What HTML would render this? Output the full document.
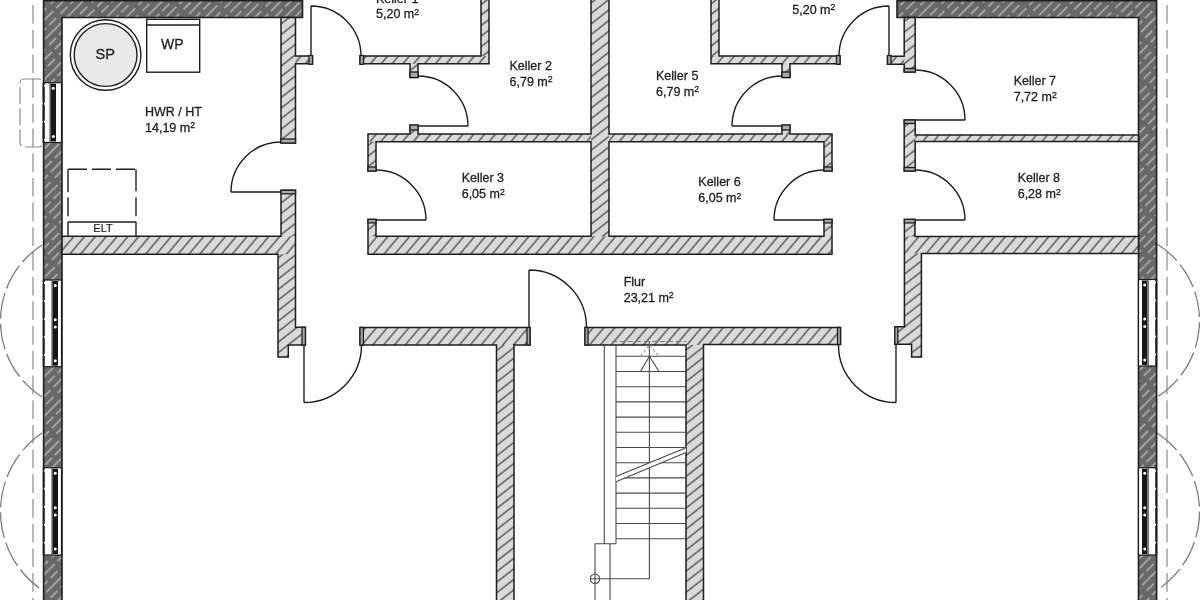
<!DOCTYPE html>
<html><head><meta charset="utf-8"><title>Grundriss Keller</title>
<style>html,body{margin:0;padding:0;background:#fff;width:1200px;height:600px;overflow:hidden}svg{display:block;will-change:transform}</style>
</head><body>
<svg width="1200" height="600" viewBox="0 0 1200 600">
<defs>
 <pattern id="hl" patternUnits="userSpaceOnUse" width="8.3" height="20" patternTransform="rotate(40)">
  <rect width="8.3" height="20" fill="#dadada"/>
  <line x1="1" y1="0" x2="1" y2="20" stroke="#353535" stroke-width="1.15"/>
 </pattern>
 <pattern id="hv" patternUnits="userSpaceOnUse" width="8.3" height="20" patternTransform="rotate(52)">
  <rect width="8.3" height="20" fill="#dadada"/>
  <line x1="1" y1="0" x2="1" y2="20" stroke="#353535" stroke-width="1.15"/>
 </pattern>
 <pattern id="hd" patternUnits="userSpaceOnUse" width="14" height="30" patternTransform="rotate(45)">
  <rect width="14" height="30" fill="#686868"/>
  <line x1="3.5" y1="0" x2="3.5" y2="26" stroke="#b6b6b6" stroke-width="1.5"/>
  <line x1="10.5" y1="3" x2="10.5" y2="13" stroke="#b6b6b6" stroke-width="1.5"/>
  <line x1="10.5" y1="17" x2="10.5" y2="27" stroke="#b6b6b6" stroke-width="1.5"/>
 </pattern>
</defs>

<line x1="33" y1="0" x2="33" y2="600" stroke="#9a9a9a" stroke-width="1.4" stroke-dasharray="18.7 6" stroke-dashoffset="-5"/>
<line x1="1167" y1="0" x2="1167" y2="600" stroke="#9a9a9a" stroke-width="1.4" stroke-dasharray="18.7 6" stroke-dashoffset="-5"/>
<path d="M42,245 A90.3,90.3 0 0 0 42,397" fill="none" stroke="#7c7c7c" stroke-width="1.35" stroke-dasharray="26 5"/>
<path d="M42,433 A95.0,95.0 0 0 0 42,590" fill="none" stroke="#7c7c7c" stroke-width="1.35" stroke-dasharray="26 5"/>
<path d="M1157,244 A90.1,90.1 0 0 1 1157,397" fill="none" stroke="#7c7c7c" stroke-width="1.35" stroke-dasharray="26 5"/>
<path d="M1157,433 A93.7,93.7 0 0 1 1157,590" fill="none" stroke="#7c7c7c" stroke-width="1.35" stroke-dasharray="26 5"/>
<rect x="20" y="79" width="23" height="68" rx="4" fill="none" stroke="#8a8a8a" stroke-width="1.2" stroke-dasharray="17 4"/>
<path d="M43.6,0.7 L302.5,0.7 L302.5,17.5 L62,17.5 L62,602 L43.6,602 Z" fill="url(#hd)" stroke="#1e1e1e" stroke-width="1.6"/>
<path d="M897,0.7 L1156.6,0.7 L1156.6,602 L1138.5,602 L1138.5,17.5 L897,17.5 Z" fill="url(#hd)" stroke="#1e1e1e" stroke-width="1.6"/>
<clipPath id="ic"><path d="M281,17.5 L295.5,17.5 L295.5,56 L312.5,56 L312.5,63.8 L295.5,63.8 L295.5,143 L281,143 Z M62,236.2 L281,236.2 L281,190.3 L295.5,190.3 L295.5,327.3 L305.4,327.3 L305.4,345 L288.3,345 L288.3,357 L278,357 L278,254.2 L62,254.2 Z M481,-2 L489,-2 L489,63.8 L418,63.8 L418,77.5 L410,77.5 L410,63.8 L360,63.8 L360,56 L481,56 Z M711,-2 L719,-2 L719,56 L840,56 L840,63.8 L790,63.8 L790,77.5 L782,77.5 L782,63.8 L711,63.8 Z M591,-2 L609,-2 L609,134 L782,134 L782,125.3 L790,125.3 L790,134 L832,134 L832,171 L824,171 L824,141.8 L609,141.8 L609,236.2 L824,236.2 L824,219.4 L832,219.4 L832,254.2 L368,254.2 L368,219.4 L376,219.4 L376,236.2 L591,236.2 L591,141.8 L376,141.8 L376,171 L368,171 L368,134 L410,134 L410,125.3 L418,125.3 L418,134 L591,134 Z M904.2,17.5 L915.2,17.5 L915.2,72 L904.2,72 L904.2,64.2 L887.5,64.2 L887.5,56.2 L904.2,56.2 Z M904.2,120 L915.2,120 L915.2,135 L1138.5,135 L1138.5,141.5 L915.2,141.5 L915.2,171 L904.2,171 Z M904.4,219.4 L915,219.4 L915,236.5 L1138.5,236.5 L1138.5,253.5 L921.4,253.5 L921.4,357 L911.6,357 L911.6,344.2 L894.8,344.2 L894.8,326.8 L904.4,326.8 Z M360,327.5 L530,327.5 L530,345 L514,345 L514,602 L496.5,602 L496.5,345 L360,345 Z M585,327.5 L840.5,327.5 L840.5,344.5 L703.5,344.5 L703.5,602 L686,602 L686,345 L585,345 Z"/></clipPath>
<path d="M281,17.5 L295.5,17.5 L295.5,56 L312.5,56 L312.5,63.8 L295.5,63.8 L295.5,143 L281,143 Z M62,236.2 L281,236.2 L281,190.3 L295.5,190.3 L295.5,327.3 L305.4,327.3 L305.4,345 L288.3,345 L288.3,357 L278,357 L278,254.2 L62,254.2 Z M481,-2 L489,-2 L489,63.8 L418,63.8 L418,77.5 L410,77.5 L410,63.8 L360,63.8 L360,56 L481,56 Z M711,-2 L719,-2 L719,56 L840,56 L840,63.8 L790,63.8 L790,77.5 L782,77.5 L782,63.8 L711,63.8 Z M591,-2 L609,-2 L609,134 L782,134 L782,125.3 L790,125.3 L790,134 L832,134 L832,171 L824,171 L824,141.8 L609,141.8 L609,236.2 L824,236.2 L824,219.4 L832,219.4 L832,254.2 L368,254.2 L368,219.4 L376,219.4 L376,236.2 L591,236.2 L591,141.8 L376,141.8 L376,171 L368,171 L368,134 L410,134 L410,125.3 L418,125.3 L418,134 L591,134 Z M904.2,17.5 L915.2,17.5 L915.2,72 L904.2,72 L904.2,64.2 L887.5,64.2 L887.5,56.2 L904.2,56.2 Z M904.2,120 L915.2,120 L915.2,135 L1138.5,135 L1138.5,141.5 L915.2,141.5 L915.2,171 L904.2,171 Z M904.4,219.4 L915,219.4 L915,236.5 L1138.5,236.5 L1138.5,253.5 L921.4,253.5 L921.4,357 L911.6,357 L911.6,344.2 L894.8,344.2 L894.8,326.8 L904.4,326.8 Z M360,327.5 L530,327.5 L530,345 L514,345 L514,602 L496.5,602 L496.5,345 L360,345 Z M585,327.5 L840.5,327.5 L840.5,344.5 L703.5,344.5 L703.5,602 L686,602 L686,345 L585,345 Z" fill="url(#hl)" stroke="none"/>
<g clip-path="url(#ic)"><rect x="281" y="17.5" width="14.5" height="125.5" fill="url(#hv)"/><rect x="281" y="190.3" width="14.5" height="45.9" fill="url(#hv)"/><rect x="278" y="254.2" width="28.0" height="102.8" fill="url(#hv)"/><rect x="481" y="-2" width="8.0" height="58.0" fill="url(#hv)"/><rect x="711" y="-2" width="8.0" height="58.0" fill="url(#hv)"/><rect x="591" y="-2" width="18.0" height="238.2" fill="url(#hv)"/><rect x="368" y="141.8" width="8.0" height="29.2" fill="url(#hv)"/><rect x="368" y="219.4" width="8.0" height="16.8" fill="url(#hv)"/><rect x="824" y="141.8" width="8.0" height="29.2" fill="url(#hv)"/><rect x="824" y="219.4" width="8.0" height="16.8" fill="url(#hv)"/><rect x="410" y="63.8" width="8.0" height="13.7" fill="url(#hv)"/><rect x="410" y="125.3" width="8.0" height="8.7" fill="url(#hv)"/><rect x="782" y="63.8" width="8.0" height="13.7" fill="url(#hv)"/><rect x="782" y="125.3" width="8.0" height="8.7" fill="url(#hv)"/><rect x="904.2" y="17.5" width="11.0" height="54.5" fill="url(#hv)"/><rect x="904.2" y="120" width="11.0" height="51.0" fill="url(#hv)"/><rect x="904.4" y="219.4" width="10.6" height="17.1" fill="url(#hv)"/><rect x="894" y="253.5" width="27.4" height="103.5" fill="url(#hv)"/><rect x="496.5" y="345" width="17.5" height="257.0" fill="url(#hv)"/><rect x="686" y="345" width="17.5" height="257.0" fill="url(#hv)"/></g>
<path d="M281,17.5 L295.5,17.5 L295.5,56 L312.5,56 L312.5,63.8 L295.5,63.8 L295.5,143 L281,143 Z M62,236.2 L281,236.2 L281,190.3 L295.5,190.3 L295.5,327.3 L305.4,327.3 L305.4,345 L288.3,345 L288.3,357 L278,357 L278,254.2 L62,254.2 Z M481,-2 L489,-2 L489,63.8 L418,63.8 L418,77.5 L410,77.5 L410,63.8 L360,63.8 L360,56 L481,56 Z M711,-2 L719,-2 L719,56 L840,56 L840,63.8 L790,63.8 L790,77.5 L782,77.5 L782,63.8 L711,63.8 Z M591,-2 L609,-2 L609,134 L782,134 L782,125.3 L790,125.3 L790,134 L832,134 L832,171 L824,171 L824,141.8 L609,141.8 L609,236.2 L824,236.2 L824,219.4 L832,219.4 L832,254.2 L368,254.2 L368,219.4 L376,219.4 L376,236.2 L591,236.2 L591,141.8 L376,141.8 L376,171 L368,171 L368,134 L410,134 L410,125.3 L418,125.3 L418,134 L591,134 Z M904.2,17.5 L915.2,17.5 L915.2,72 L904.2,72 L904.2,64.2 L887.5,64.2 L887.5,56.2 L904.2,56.2 Z M904.2,120 L915.2,120 L915.2,135 L1138.5,135 L1138.5,141.5 L915.2,141.5 L915.2,171 L904.2,171 Z M904.4,219.4 L915,219.4 L915,236.5 L1138.5,236.5 L1138.5,253.5 L921.4,253.5 L921.4,357 L911.6,357 L911.6,344.2 L894.8,344.2 L894.8,326.8 L904.4,326.8 Z M360,327.5 L530,327.5 L530,345 L514,345 L514,602 L496.5,602 L496.5,345 L360,345 Z M585,327.5 L840.5,327.5 L840.5,344.5 L703.5,344.5 L703.5,602 L686,602 L686,345 L585,345 Z" fill="none" stroke="#1e1e1e" stroke-width="1.5" stroke-linejoin="miter"/>
<rect x="309" y="55.5" width="3.5" height="8.8" fill="#a9a9a9" stroke="#1e1e1e" stroke-width="1.3"/>
<rect x="360" y="55.5" width="3.5" height="8.8" fill="#a9a9a9" stroke="#1e1e1e" stroke-width="1.3"/>
<rect x="410" y="72" width="8" height="5.5" fill="#a9a9a9" stroke="#1e1e1e" stroke-width="1.3"/>
<rect x="410" y="125" width="8" height="5" fill="#a9a9a9" stroke="#1e1e1e" stroke-width="1.3"/>
<rect x="281" y="139" width="14.5" height="4" fill="#a9a9a9" stroke="#1e1e1e" stroke-width="1.3"/>
<rect x="281" y="190.3" width="14.5" height="3.5" fill="#a9a9a9" stroke="#1e1e1e" stroke-width="1.3"/>
<rect x="368" y="167" width="8" height="4" fill="#a9a9a9" stroke="#1e1e1e" stroke-width="1.3"/>
<rect x="368" y="219.4" width="8" height="3.5" fill="#a9a9a9" stroke="#1e1e1e" stroke-width="1.3"/>
<rect x="782" y="72" width="8" height="5.5" fill="#a9a9a9" stroke="#1e1e1e" stroke-width="1.3"/>
<rect x="782" y="125" width="8" height="5" fill="#a9a9a9" stroke="#1e1e1e" stroke-width="1.3"/>
<rect x="836.5" y="55.5" width="3.5" height="8.8" fill="#a9a9a9" stroke="#1e1e1e" stroke-width="1.3"/>
<rect x="887.5" y="55.5" width="3.5" height="8.8" fill="#a9a9a9" stroke="#1e1e1e" stroke-width="1.3"/>
<rect x="824" y="167" width="8" height="4" fill="#a9a9a9" stroke="#1e1e1e" stroke-width="1.3"/>
<rect x="824" y="219.4" width="8" height="3.5" fill="#a9a9a9" stroke="#1e1e1e" stroke-width="1.3"/>
<rect x="904.2" y="68.5" width="11" height="3.5" fill="#a9a9a9" stroke="#1e1e1e" stroke-width="1.3"/>
<rect x="904.2" y="120" width="11" height="3.5" fill="#a9a9a9" stroke="#1e1e1e" stroke-width="1.3"/>
<rect x="904.2" y="167.5" width="11" height="3.5" fill="#a9a9a9" stroke="#1e1e1e" stroke-width="1.3"/>
<rect x="904.4" y="219.4" width="10.6" height="3.5" fill="#a9a9a9" stroke="#1e1e1e" stroke-width="1.3"/>
<rect x="302" y="327.3" width="3.4" height="17.7" fill="#a9a9a9" stroke="#1e1e1e" stroke-width="1.3"/>
<rect x="360" y="327.5" width="3.4" height="17.5" fill="#a9a9a9" stroke="#1e1e1e" stroke-width="1.3"/>
<rect x="527" y="327.5" width="3" height="17.5" fill="#a9a9a9" stroke="#1e1e1e" stroke-width="1.3"/>
<rect x="585" y="327.5" width="3" height="17.5" fill="#a9a9a9" stroke="#1e1e1e" stroke-width="1.3"/>
<rect x="837.5" y="327.5" width="3" height="17" fill="#a9a9a9" stroke="#1e1e1e" stroke-width="1.3"/>
<rect x="894.8" y="326.8" width="3" height="17.4" fill="#a9a9a9" stroke="#1e1e1e" stroke-width="1.3"/>
<path d="M311,56 L311,6 M361,56 A50,50 0 0 0 311,6" fill="none" stroke="#1e1e1e" stroke-width="1.4"/>
<path d="M418,126 L468,126 M418,76 A50,50 0 0 1 468,126" fill="none" stroke="#1e1e1e" stroke-width="1.4"/>
<path d="M281,192 L231,192 M281,142 A50,50 0 0 0 231,192" fill="none" stroke="#1e1e1e" stroke-width="1.4"/>
<path d="M376,220 L426,220 M376,170 A50,50 0 0 1 426,220" fill="none" stroke="#1e1e1e" stroke-width="1.4"/>
<path d="M782,126 L732,126 M782,76 A50,50 0 0 0 732,126" fill="none" stroke="#1e1e1e" stroke-width="1.4"/>
<path d="M889,56 L889,6 M839,56 A50,50 0 0 1 889,6" fill="none" stroke="#1e1e1e" stroke-width="1.4"/>
<path d="M824,220 L774,220 M824,170 A50,50 0 0 0 774,220" fill="none" stroke="#1e1e1e" stroke-width="1.4"/>
<path d="M915,120 L965,120 M915,70 A50,50 0 0 1 965,120" fill="none" stroke="#1e1e1e" stroke-width="1.4"/>
<path d="M915,220 L965,220 M915,170 A50,50 0 0 1 965,220" fill="none" stroke="#1e1e1e" stroke-width="1.4"/>
<path d="M304,345 L304,402.5 M361.5,345 A57.5,57.5 0 0 1 304,402.5" fill="none" stroke="#1e1e1e" stroke-width="1.4"/>
<path d="M529,327.5 L529,270 M586.5,327.5 A57.5,57.5 0 0 0 529,270" fill="none" stroke="#1e1e1e" stroke-width="1.4"/>
<path d="M896,345 L896,402.5 M838.5,345 A57.5,57.5 0 0 0 896,402.5" fill="none" stroke="#1e1e1e" stroke-width="1.4"/>
<rect x="43.5" y="82.7" width="18" height="59.8" fill="#fff" stroke="#1e1e1e" stroke-width="1.2"/><line x1="43.8" y1="82.7" x2="43.8" y2="142.5" stroke="#1e1e1e" stroke-width="2" stroke-dasharray="16 2" stroke-dashoffset="-4"/><line x1="50.0" y1="82.7" x2="50.0" y2="142.5" stroke="#1e1e1e" stroke-width="0.9"/><rect x="50.6" y="83.7" width="5.4" height="57.8" fill="#161616"/><circle cx="53.3" cy="88.2" r="1.5" fill="#fff"/><circle cx="53.3" cy="136.5" r="1.5" fill="#fff"/>
<rect x="43.5" y="280" width="18" height="86.69999999999999" fill="#fff" stroke="#1e1e1e" stroke-width="1.2"/><line x1="43.8" y1="280" x2="43.8" y2="366.7" stroke="#1e1e1e" stroke-width="2" stroke-dasharray="16 2" stroke-dashoffset="-4"/><line x1="52.0" y1="280" x2="52.0" y2="366.7" stroke="#1e1e1e" stroke-width="0.9"/><rect x="52.6" y="281" width="5.4" height="84.69999999999999" fill="#161616"/><circle cx="55.3" cy="285.5" r="1.5" fill="#fff"/><circle cx="55.3" cy="360.7" r="1.5" fill="#fff"/><circle cx="55.3" cy="319.7" r="1.5" fill="#fff"/><circle cx="55.3" cy="327.1" r="1.5" fill="#fff"/>
<rect x="43.5" y="467.7" width="18" height="87.30000000000001" fill="#fff" stroke="#1e1e1e" stroke-width="1.2"/><line x1="43.8" y1="467.7" x2="43.8" y2="555" stroke="#1e1e1e" stroke-width="2" stroke-dasharray="16 2" stroke-dashoffset="-4"/><line x1="52.0" y1="467.7" x2="52.0" y2="555" stroke="#1e1e1e" stroke-width="0.9"/><rect x="52.6" y="468.7" width="5.4" height="85.30000000000001" fill="#161616"/><circle cx="55.3" cy="473.2" r="1.5" fill="#fff"/><circle cx="55.3" cy="549.0" r="1.5" fill="#fff"/><circle cx="55.3" cy="507.7" r="1.5" fill="#fff"/><circle cx="55.3" cy="515.1" r="1.5" fill="#fff"/>
<rect x="1138.5" y="279.5" width="18" height="86.5" fill="#fff" stroke="#1e1e1e" stroke-width="1.2"/><line x1="1156.2" y1="279.5" x2="1156.2" y2="366" stroke="#1e1e1e" stroke-width="2" stroke-dasharray="16 2" stroke-dashoffset="-4"/><line x1="1148.2" y1="279.5" x2="1148.2" y2="366" stroke="#1e1e1e" stroke-width="0.9"/><rect x="1142" y="280.5" width="5.4" height="84.5" fill="#161616"/><circle cx="1144.7" cy="285.0" r="1.5" fill="#fff"/><circle cx="1144.7" cy="360.0" r="1.5" fill="#fff"/><circle cx="1144.7" cy="319.1" r="1.5" fill="#fff"/><circle cx="1144.7" cy="326.4" r="1.5" fill="#fff"/>
<rect x="1138.5" y="467.7" width="18" height="87.30000000000001" fill="#fff" stroke="#1e1e1e" stroke-width="1.2"/><line x1="1156.2" y1="467.7" x2="1156.2" y2="555" stroke="#1e1e1e" stroke-width="2" stroke-dasharray="16 2" stroke-dashoffset="-4"/><line x1="1148.2" y1="467.7" x2="1148.2" y2="555" stroke="#1e1e1e" stroke-width="0.9"/><rect x="1142" y="468.7" width="5.4" height="85.30000000000001" fill="#161616"/><circle cx="1144.7" cy="473.2" r="1.5" fill="#fff"/><circle cx="1144.7" cy="549.0" r="1.5" fill="#fff"/><circle cx="1144.7" cy="507.7" r="1.5" fill="#fff"/><circle cx="1144.7" cy="515.1" r="1.5" fill="#fff"/>
<g stroke="#4a4a4a" stroke-width="1.1" fill="none">
<line x1="604.3" y1="345" x2="604.3" y2="543.7"/>
<line x1="616" y1="345" x2="616" y2="543.7"/>
<polyline points="616,543.7 595,543.7 595,600"/>
<line x1="610" y1="543.7" x2="610" y2="600"/>
<line x1="616" y1="356.3" x2="686" y2="356.3"/>
<line x1="616" y1="371.5" x2="686" y2="371.5"/>
<line x1="616" y1="386.7" x2="686" y2="386.7"/>
<line x1="616" y1="401.9" x2="686" y2="401.9"/>
<line x1="616" y1="417.1" x2="686" y2="417.1"/>
<line x1="616" y1="432.3" x2="686" y2="432.3"/>
<line x1="616" y1="447.5" x2="686" y2="447.5"/>
<line x1="616" y1="462.7" x2="686" y2="462.7"/>
<line x1="616" y1="477.9" x2="686" y2="477.9"/>
<line x1="616" y1="493.1" x2="686" y2="493.1"/>
<line x1="616" y1="508.3" x2="686" y2="508.3"/>
<line x1="616" y1="523.5" x2="686" y2="523.5"/>
<line x1="616" y1="538.7" x2="686" y2="538.7"/>
<polyline points="649.4,341 649.4,578.7 590.5,578.7"/>
<circle cx="595" cy="578.7" r="4.7"/>
<polyline points="640.5,371.5 649.4,356.3 659,371.5"/>
<polyline points="640.5,356.3 649.4,345 659,356.3" stroke="#9a9a9a" stroke-dasharray="3 2"/>
<line x1="612" y1="341.5" x2="686" y2="341.5" stroke="#808080" stroke-dasharray="5 3"/>
</g>
<polygon points="616,476.5 686,447.7 686,452.5 616,481.7" fill="#fff" stroke="none"/>
<line x1="616" y1="476.5" x2="686" y2="447.7" stroke="#4a4a4a" stroke-width="1.1"/>
<line x1="616" y1="481.7" x2="686" y2="452.5" stroke="#4a4a4a" stroke-width="1.1"/>
<circle cx="105.6" cy="55" r="35.3" fill="#fff" stroke="#1e1e1e" stroke-width="1.4"/>
<circle cx="105.6" cy="55" r="31.4" fill="#e9e9e9" stroke="#1e1e1e" stroke-width="1.4"/>
<rect x="146.7" y="19.3" width="53" height="52.9" fill="#fff" stroke="#1e1e1e" stroke-width="1.4"/>
<line x1="146.7" y1="25" x2="199.7" y2="25" stroke="#1e1e1e" stroke-width="1.3"/>
<path d="M68,236 L68,222 M136,236 L136,222 M68,222 L136,222" fill="none" stroke="#1e1e1e" stroke-width="1.4"/>
<line x1="68" y1="169.2" x2="136" y2="169.2" stroke="#1e1e1e" stroke-width="1.4" stroke-dasharray="19 5"/>
<line x1="68" y1="169.2" x2="68" y2="222" stroke="#1e1e1e" stroke-width="1.4" stroke-dasharray="23 5 19 6"/>
<line x1="136" y1="169.2" x2="136" y2="222" stroke="#1e1e1e" stroke-width="1.4" stroke-dasharray="22 6 19 6"/>
<text x="376" y="2.6" font-family="Liberation Sans, sans-serif" font-size="12.5" fill="#1f1f1f" stroke="#1f1f1f" stroke-width="0.3">Keller 1</text><text x="376" y="18.4" font-family="Liberation Sans, sans-serif" font-size="12.5" fill="#1f1f1f" stroke="#1f1f1f" stroke-width="0.3">5,20 m<tspan font-size="8.8" dy="-3.6">2</tspan></text>
<text x="792.3" y="-1.8" font-family="Liberation Sans, sans-serif" font-size="12.5" fill="#1f1f1f" stroke="#1f1f1f" stroke-width="0.3">Keller 4</text><text x="792.3" y="14.0" font-family="Liberation Sans, sans-serif" font-size="12.5" fill="#1f1f1f" stroke="#1f1f1f" stroke-width="0.3">5,20 m<tspan font-size="8.8" dy="-3.6">2</tspan></text>
<text x="509.5" y="70" font-family="Liberation Sans, sans-serif" font-size="12.5" fill="#1f1f1f" stroke="#1f1f1f" stroke-width="0.3">Keller 2</text><text x="509.5" y="85.8" font-family="Liberation Sans, sans-serif" font-size="12.5" fill="#1f1f1f" stroke="#1f1f1f" stroke-width="0.3">6,79 m<tspan font-size="8.8" dy="-3.6">2</tspan></text>
<text x="656" y="79.7" font-family="Liberation Sans, sans-serif" font-size="12.5" fill="#1f1f1f" stroke="#1f1f1f" stroke-width="0.3">Keller 5</text><text x="656" y="95.5" font-family="Liberation Sans, sans-serif" font-size="12.5" fill="#1f1f1f" stroke="#1f1f1f" stroke-width="0.3">6,79 m<tspan font-size="8.8" dy="-3.6">2</tspan></text>
<text x="145" y="116" font-family="Liberation Sans, sans-serif" font-size="12.5" fill="#1f1f1f" stroke="#1f1f1f" stroke-width="0.3">HWR / HT</text><text x="145" y="131.8" font-family="Liberation Sans, sans-serif" font-size="12.5" fill="#1f1f1f" stroke="#1f1f1f" stroke-width="0.3">14,19 m<tspan font-size="8.8" dy="-3.6">2</tspan></text>
<text x="461.7" y="182.3" font-family="Liberation Sans, sans-serif" font-size="12.5" fill="#1f1f1f" stroke="#1f1f1f" stroke-width="0.3">Keller 3</text><text x="461.7" y="198.1" font-family="Liberation Sans, sans-serif" font-size="12.5" fill="#1f1f1f" stroke="#1f1f1f" stroke-width="0.3">6,05 m<tspan font-size="8.8" dy="-3.6">2</tspan></text>
<text x="698.3" y="186.3" font-family="Liberation Sans, sans-serif" font-size="12.5" fill="#1f1f1f" stroke="#1f1f1f" stroke-width="0.3">Keller 6</text><text x="698.3" y="202.1" font-family="Liberation Sans, sans-serif" font-size="12.5" fill="#1f1f1f" stroke="#1f1f1f" stroke-width="0.3">6,05 m<tspan font-size="8.8" dy="-3.6">2</tspan></text>
<text x="1013.7" y="85.3" font-family="Liberation Sans, sans-serif" font-size="12.5" fill="#1f1f1f" stroke="#1f1f1f" stroke-width="0.3">Keller 7</text><text x="1013.7" y="101.1" font-family="Liberation Sans, sans-serif" font-size="12.5" fill="#1f1f1f" stroke="#1f1f1f" stroke-width="0.3">7,72 m<tspan font-size="8.8" dy="-3.6">2</tspan></text>
<text x="1017.7" y="182.3" font-family="Liberation Sans, sans-serif" font-size="12.5" fill="#1f1f1f" stroke="#1f1f1f" stroke-width="0.3">Keller 8</text><text x="1017.7" y="198.1" font-family="Liberation Sans, sans-serif" font-size="12.5" fill="#1f1f1f" stroke="#1f1f1f" stroke-width="0.3">6,28 m<tspan font-size="8.8" dy="-3.6">2</tspan></text>
<text x="623.7" y="286" font-family="Liberation Sans, sans-serif" font-size="12.5" fill="#1f1f1f" stroke="#1f1f1f" stroke-width="0.3">Flur</text><text x="623.7" y="301.8" font-family="Liberation Sans, sans-serif" font-size="12.5" fill="#1f1f1f" stroke="#1f1f1f" stroke-width="0.3">23,21 m<tspan font-size="8.8" dy="-3.6">2</tspan></text>
<text x="105.3" y="58.5" font-family="Liberation Sans, sans-serif" font-size="14.6" fill="#1f1f1f" stroke="#1f1f1f" stroke-width="0.3" text-anchor="middle">SP</text>
<text x="172.4" y="48.5" font-family="Liberation Sans, sans-serif" font-size="14" fill="#1f1f1f" stroke="#1f1f1f" stroke-width="0.3" text-anchor="middle">WP</text>
<text x="103" y="232.3" font-family="Liberation Sans, sans-serif" font-size="11" fill="#1f1f1f" stroke="#1f1f1f" stroke-width="0.2" text-anchor="middle">ELT</text></svg>
</body></html>
